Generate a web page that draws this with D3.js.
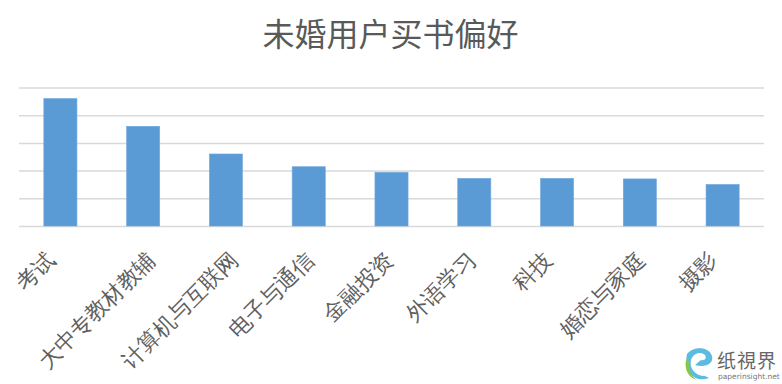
<!DOCTYPE html>
<html><head><meta charset="utf-8">
<script src="https://cdn.jsdelivr.net/npm/d3@7"></script>
<style>body{margin:0;background:#fff}svg{display:block;font-family:"Noto Sans CJK SC","Noto Sans",sans-serif}</style>
</head><body><div id="chart"></div>
<script>
const title = "未婚用户买书偏好";
const categories = ["考试","大中专教材教辅","计算机与互联网","电子与通信","金融投资","外语学习","科技","婚恋与家庭","摄影"];
const values = [23.0, 18.0, 13.0, 10.7, 9.7, 8.6, 8.6, 8.5, 7.5];
const yTicks = [0, 5, 10, 15, 20, 25];

const W = 782, H = 384;
const m = {left: 19, right: 18, top: 87.5, bottom: 158};
const svg = d3.select("#chart").append("svg").attr("width", W).attr("height", H);

const x = d3.scaleBand().domain(categories).range([m.left, W - m.right]).paddingInner(0.6).paddingOuter(0.3);
const y = d3.scaleLinear().domain([0, 25]).range([H - m.bottom, m.top]);

svg.append("text").attr("x", 390.5).attr("y", 46).attr("text-anchor", "middle")
  .attr("font-size", 32).attr("fill", "#595959").text(title);

const grid = svg.append("g").attr("transform", `translate(${m.left},0)`)
  .call(d3.axisLeft(y).tickValues(yTicks).tickSize(-(W - m.left - m.right)).tickFormat(""));
grid.select(".domain").remove();
grid.selectAll(".tick line").attr("stroke", "#d9d9d9").attr("stroke-width", 1.5);

svg.append("g").selectAll("rect").data(values).join("rect")
  .attr("x", (d, i) => x(categories[i]))
  .attr("y", d => y(d))
  .attr("width", x.bandwidth())
  .attr("height", d => y(0) - y(d))
  .attr("fill", "#5b9bd5").attr("stroke", "#6fa8dc").attr("stroke-width", 0.6);

const xa = svg.append("g").attr("transform", `translate(0,${y(0)})`)
  .call(d3.axisBottom(x).tickSize(0).tickPadding(0));
xa.select(".domain").remove();
xa.selectAll(".tick text")
  .attr("font-size", 22).attr("fill", "#5f5f5f")
  .attr("text-anchor", "end")
  .attr("dy", 0).attr("y", 0)
  .attr("transform", d => `translate(${3.46 * d.length - 10.7},35) rotate(-45)`);

// watermark
const wm = svg.append("g").attr("transform", "translate(683,348)");
wm.append("path").attr("d", "M4,6 C10,-2 26,-2 29,8 C31,16 22,20 12,17 L18,12 C22,13 24,10 22,7 C18,3 10,5 8,12 C6,20 12,28 22,28 L26,30 C14,35 0,26 4,6 Z")
  .attr("fill", "#5bbbe0");
wm.append("path").attr("d", "M3,12 C1,22 6,30 14,32 C8,28 5,22 6,14 Z").attr("fill", "#8cc63f");
wm.append("text").attr("x", 34).attr("y", 20).attr("font-size", 19).attr("fill", "#666")
  .attr("font-family", "'Noto Sans CJK TC',sans-serif").attr("letter-spacing", 1).text("纸視界");
wm.append("text").attr("x", 35).attr("y", 31).attr("font-size", 7.5).attr("fill", "#777")
  .attr("font-family", "'DejaVu Sans',sans-serif").text("paperinsight.net");
</script></body></html>
